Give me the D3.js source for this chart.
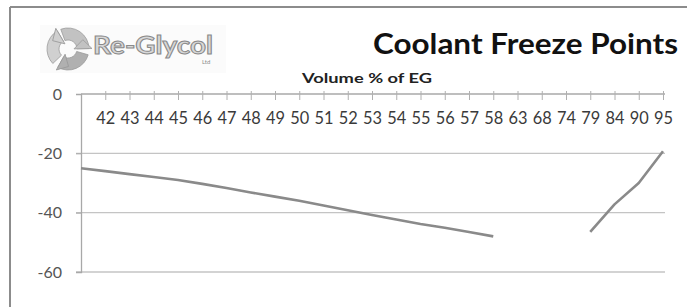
<!DOCTYPE html>
<html>
<head>
<meta charset="utf-8">
<script src="https://cdn.jsdelivr.net/npm/d3@7"></script>
<style>
    body { margin: 0; background: #fff; }
    svg { display: block; font-family: Lato, "Open Sans", sans-serif; }
</style>
</head>
<body>
<svg id="chart" width="687" height="307"></svg>
<script>
// ========================
// DATA
// ========================
// first slot has no label, the first series starts there
var categories = ["", "42", "43", "44", "45", "46", "47", "48", "49", "50", "51", "52",
    "53", "54", "55", "56", "57", "58", "63", "68", "74", "79", "84", "90", "95"];

var lowCats = ["", "42", "43", "44", "45", "46", "47", "48", "49", "50", "51", "52",
    "53", "54", "55", "56", "57", "58"];
var lowValues = [-25, -26, -27, -28, -29, -30.3, -31.7, -33.2, -34.6, -36, -37.6, -39.2,
    -40.8, -42.3, -43.8, -45.1, -46.5, -48];

var highCats = ["79", "84", "90", "95"];
var highValues = [-46.5, -37.2, -30, -19.3];

var yTicks = [0, -20, -40, -60];

var chartTitle = "Coolant Freeze Points";
var axisTitle = "Volume % of EG";

// ########
// # MAIN #
// ########
var svg = d3.select("#chart");

// keys so that the blank category still gets its own slot
var keys = categories.map(function (c, i) { return i; });

var x = d3.scalePoint()
    .domain(keys)
    .range([81, 663]);

var y = d3.scaleLinear()
    .domain([-60, 0])
    .range([272, 94]);

function xOf(cat) {
    return x(categories.indexOf(cat));
}

// outer frame, only top and left show in the crop
svg.append("line")
    .attr("x1", 10).attr("x2", 687)
    .attr("y1", 7).attr("y2", 7)
    .attr("stroke", "#8c8c8c")
    .attr("stroke-width", 2);
svg.append("line")
    .attr("x1", 10).attr("x2", 10)
    .attr("y1", 7).attr("y2", 307)
    .attr("stroke", "#8c8c8c")
    .attr("stroke-width", 2);

// ####################
// # logo (Re-Glycol) #
// ####################
var logo = svg.append("g").attr("transform", "translate(68,49)");

logo.append("rect")
    .attr("x", -28).attr("y", -24)
    .attr("width", 186).attr("height", 48)
    .attr("fill", "#fbfbfb");

var arc = d3.arc().innerRadius(9).outerRadius(21);
var pieces = [
    {startAngle: -0.35, endAngle: 1.55, fill: "#c2c2c2"},
    {startAngle: 1.85, endAngle: 3.65, fill: "#b0b0b0"},
    {startAngle: 3.95, endAngle: 5.75, fill: "#d0d0d0"}
];
logo.selectAll("path.seg")
    .data(pieces)
    .enter().append("path")
    .attr("class", "seg")
    .attr("d", arc)
    .attr("fill", function (d) { return d.fill; })
    .attr("stroke", "#9a9a9a")
    .attr("stroke-width", 0.8);

// little arrow heads at the end of each segment
logo.selectAll("path.head")
    .data(pieces)
    .enter().append("path")
    .attr("class", "head")
    .attr("d", "M-9,0 L9,0 L0,9 Z")
    .attr("fill", function (d) { return d.fill; })
    .attr("stroke", "#9a9a9a")
    .attr("stroke-width", 0.8)
    .attr("transform", function (d) {
        var a = d.endAngle;
        var r = 15;
        var deg = a * 180 / Math.PI;
        return "translate(" + (r * Math.sin(a)) + "," + (-r * Math.cos(a)) + ") rotate(" + (deg + 90) + ")";
    });

svg.append("text")
    .attr("x", 93).attr("y", 54)
    .attr("font-size", 24)
    .attr("font-weight", "bold")
    .attr("fill", "#d8d8d8")
    .attr("stroke", "#8a8a8a")
    .attr("stroke-width", 1)
    .attr("textLength", 120)
    .attr("lengthAdjust", "spacingAndGlyphs")
    .text("Re-Glycol");

svg.append("text")
    .attr("x", 202).attr("y", 64)
    .attr("font-size", 6)
    .attr("fill", "#8a8a8a")
    .text("Ltd");

// ##########
// # titles #
// ##########
svg.append("text")
    .attr("x", 373).attr("y", 54)
    .attr("font-size", 28)
    .attr("font-weight", "bold")
    .attr("fill", "#111")
    .attr("textLength", 305)
    .attr("lengthAdjust", "spacingAndGlyphs")
    .text(chartTitle);

svg.append("text")
    .attr("x", 302).attr("y", 83)
    .attr("font-size", 14)
    .attr("font-weight", "bold")
    .attr("fill", "#222")
    .attr("textLength", 130)
    .attr("lengthAdjust", "spacingAndGlyphs")
    .text(axisTitle);

// ######################
// # gridlines and axes #
// ######################
svg.append("g")
    .selectAll("line")
    .data(yTicks.filter(function (d) { return d !== 0; }))
    .enter().append("line")
    .attr("x1", 76).attr("x2", 665)
    .attr("y1", function (d) { return y(d); })
    .attr("y2", function (d) { return y(d); })
    .attr("stroke", "#c4c4c4")
    .attr("stroke-width", 1.3);

var yAxis = svg.append("g")
    .attr("transform", "translate(81,0)")
    .call(d3.axisLeft(y).tickValues(yTicks).tickSize(5).tickPadding(14).tickFormat(String));
yAxis.select(".domain").attr("stroke", "#a8a8a8").attr("stroke-width", 1.3);
yAxis.selectAll(".tick line").attr("stroke", "#a8a8a8");
yAxis.selectAll("text")
    .attr("font-size", 16)
    .attr("font-family", "Lato, sans-serif")
    .attr("fill", "#555");

// category axis sits on the 0 line, labels below it
var xAxis = svg.append("g")
    .attr("transform", "translate(0," + y(0) + ")")
    .call(d3.axisBottom(x)
        .tickValues(keys.slice(1))
        .tickSizeOuter(0)
        .tickSize(6)
        .tickPadding(12)
        .tickFormat(function (i) { return categories[i]; }));
xAxis.select(".domain")
    .attr("d", "M81,0H665")
    .attr("stroke", "#a8a8a8")
    .attr("stroke-width", 1.3);
xAxis.selectAll(".tick line")
    .attr("y1", -3)
    .attr("stroke", "#b0b0b0");
xAxis.selectAll("text")
    .attr("font-size", 17)
    .attr("font-family", "Lato, sans-serif")
    .attr("fill", "#3a3a3a")
    .attr("textLength", 19)
    .attr("lengthAdjust", "spacingAndGlyphs");

// #########
// # lines #
// #########
var line = d3.line()
    .x(function (d) { return xOf(d.cat); })
    .y(function (d) { return y(d.value); });

var lowData = lowCats.map(function (c, i) { return {cat: c, value: lowValues[i]}; });
var highData = highCats.map(function (c, i) { return {cat: c, value: highValues[i]}; });

svg.append("g")
    .selectAll("path")
    .data([lowData, highData])
    .enter().append("path")
    .attr("d", line)
    .attr("fill", "none")
    .attr("stroke", "#8a8a8a")
    .attr("stroke-width", 2.6)
    .attr("stroke-linejoin", "round");
</script>
</body>
</html>
